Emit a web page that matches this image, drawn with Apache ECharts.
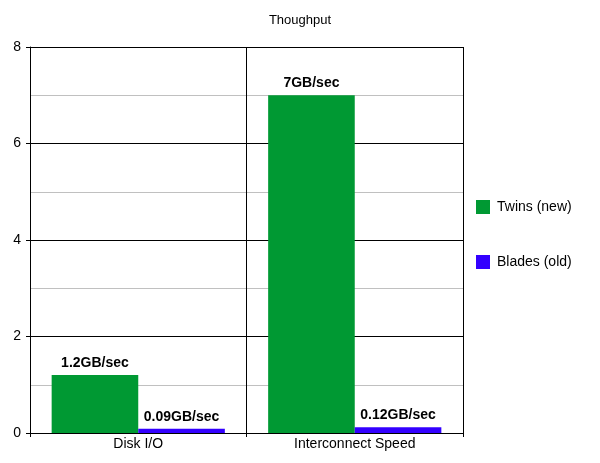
<!DOCTYPE html>
<html>
<head>
<meta charset="utf-8">
<script src="https://cdn.jsdelivr.net/npm/echarts@6/dist/echarts.min.js"></script>
<style>html,body{margin:0;padding:0;background:#fff}#c{width:600px;height:463px}</style>
</head>
<body>
<div id="c"></div>
<script>
var categories = ['Disk I/O', 'Interconnect Speed'];
var seriesNames = ['Twins (new)', 'Blades (old)'];
var twins = [1.2, 7];
var blades = [0.09, 0.12];
var twinsLabels = ['1.2GB/sec', '7GB/sec'];
var bladesLabels = ['0.09GB/sec', '0.12GB/sec'];
var colors = ['#009933', '#3300ff'];
var font = 'Liberation Sans, Arial, sans-serif';

function mkLabel(texts) {
  return {
    show: true, position: 'top', distance: 5,
    fontFamily: font, fontSize: 14, fontWeight: 'bold', color: '#000',
    formatter: function (p) { return texts[p.dataIndex]; }
  };
}

var chart = echarts.init(document.getElementById('c'), null, {renderer: 'canvas'});
chart.setOption({
  animation: false,
  backgroundColor: '#fff',
  title: {
    text: 'Thoughput', left: 'center', top: 9,
    textStyle: {fontFamily: font, fontSize: 13, fontWeight: 'normal', color: '#000'}
  },
  legend: {
    orient: 'vertical', left: 471, top: 195, itemWidth: 14, itemHeight: 14, itemGap: 41,
    icon: 'rect',
    textStyle: {fontFamily: font, fontSize: 14, color: '#000', padding: [0, 0, 0, 2]},
    data: seriesNames
  },
  grid: {left: 30, right: 137, top: 47, bottom: 30, containLabel: false},
  xAxis: {
    type: 'category', data: categories,
    axisLine: {lineStyle: {color: '#000', width: 1}},
    axisTick: {show: true, length: 4, lineStyle: {color: '#000'}},
    axisLabel: {fontFamily: font, fontSize: 14, color: '#000', margin: 4},
    splitLine: {show: true, lineStyle: {color: '#000', width: 1}}
  },
  yAxis: {
    type: 'value', min: 0, max: 8, interval: 2,
    axisLine: {show: true, lineStyle: {color: '#000'}},
    axisTick: {show: true, length: 4, lineStyle: {color: '#000'}},
    axisLabel: {fontFamily: font, fontSize: 14, color: '#000', margin: 9},
    splitLine: {show: true, lineStyle: {color: '#000', width: 1}},
    minorTick: {show: false, splitNumber: 2},
    minorSplitLine: {show: true, lineStyle: {color: '#c0c0c0', width: 1}}
  },
  series: [
    {name: seriesNames[0], type: 'bar', data: twins, barGap: '0%', barCategoryGap: '20%',
     itemStyle: {color: colors[0]}, label: mkLabel(twinsLabels)},
    {name: seriesNames[1], type: 'bar', data: blades, barGap: '0%', barCategoryGap: '20%',
     itemStyle: {color: colors[1]}, label: mkLabel(bladesLabels)}
  ]
});
</script>
</body>
</html>
